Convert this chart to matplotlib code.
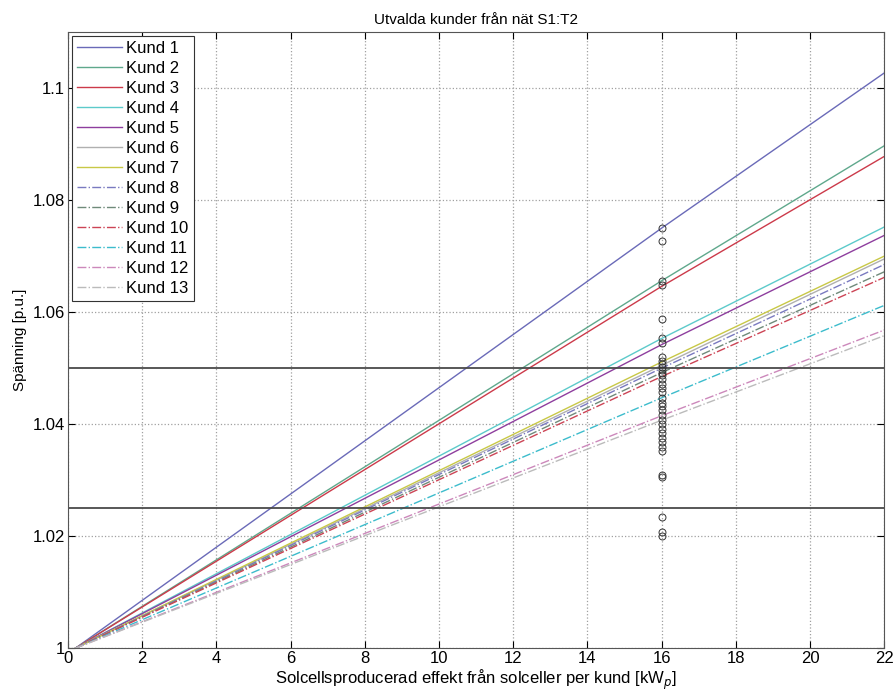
import matplotlib
matplotlib.use('Agg')
import matplotlib.pyplot as plt

plt.rcParams['font.family'] = ['Liberation Sans Narrow', 'Liberation Sans', 'DejaVu Sans']

# Voltage [p.u.] per customer at 0.2, 16 and 22 kWp
kunder = ['Kund %d' % i for i in range(1, 14)]
x_sweep = [0.2, 16, 22]
v_mid = [1.0750, 1.0656, 1.0646, 1.0553, 1.0542, 1.0505, 1.0511,
         1.0500, 1.0492, 1.0485, 1.0447, 1.0415, 1.0407]
v_end = [1.1027, 1.0897, 1.0878, 1.0752, 1.0737, 1.0695, 1.0700,
         1.0685, 1.0672, 1.0662, 1.0612, 1.0568, 1.0558]

colors = ['#6a6ab8', '#5fa88c', '#cc3a4a', '#5ccaca', '#8e3e9e', '#b0b0b0', '#c8c846',
          '#7a7ac0', '#6f8a7a', '#cc4455', '#3cbccc', '#cc88bb', '#bbbbbb']
styles = ['-'] * 7 + ['-.'] * 6

# Voltages of all customers at 16 kWp
x_pts = 16
v_pts = [1.0750, 1.0727, 1.0656, 1.0648, 1.0588, 1.0553, 1.0545, 1.0520, 1.0512,
         1.0507, 1.0502, 1.0497, 1.0492, 1.0487, 1.0480, 1.0472, 1.0465, 1.0458,
         1.0447, 1.0437, 1.0432, 1.0425, 1.0416, 1.0408, 1.0400, 1.0392, 1.0384,
         1.0376, 1.0368, 1.0360, 1.0352, 1.0310, 1.0305, 1.0235, 1.0207, 1.0200]

# Voltage limits
limits = [1.05, 1.025]

fig = plt.figure(figsize=(8.95, 6.97), dpi=100)
ax = fig.add_axes([0.076, 0.070, 0.912, 0.884])

for name, vm, ve, c, ls in zip(kunder, v_mid, v_end, colors, styles):
    ax.plot(x_sweep, [1.0, vm, ve], color=c, linestyle=ls, linewidth=1.0, label=name)

for lim in limits:
    ax.axhline(lim, color='#4a4a4a', linewidth=1.3)

ax.plot([x_pts] * len(v_pts), v_pts, linestyle='none', marker='o', markersize=5,
        markerfacecolor='none', markeredgecolor='#333333', markeredgewidth=0.7)

ax.set_xlim(0, 22)
ax.set_ylim(1.0, 1.11)
ax.set_xticks(range(0, 23, 2))
ax.set_yticks([1.0, 1.02, 1.04, 1.06, 1.08, 1.1])
ax.set_yticklabels(['1', '1.02', '1.04', '1.06', '1.08', '1.1'])
ax.tick_params(direction='in', length=5, labelsize=12, top=True, right=True, pad=2)
ax.grid(True, linestyle=':', color='#a0a0a0', linewidth=0.9)
for sp in ax.spines.values():
    sp.set_color('#555555')

ax.set_title('Utvalda kunder från nät S1:T2', fontsize=11)
ax.set_xlabel('Solcellsproducerad effekt från solceller per kund [kW$_p$]', fontsize=12, labelpad=1)
ax.set_ylabel('Spänning [p.u.]', fontsize=11)

leg = ax.legend(loc='upper left', fontsize=12, labelspacing=0.3, handlelength=2.7,
                handletextpad=0.25, borderaxespad=0.25, borderpad=0.3,
                fancybox=False, framealpha=1)
leg.get_frame().set_edgecolor('#333333')
leg.get_frame().set_linewidth(0.8)

fig.savefig('out.png', dpi=100)
